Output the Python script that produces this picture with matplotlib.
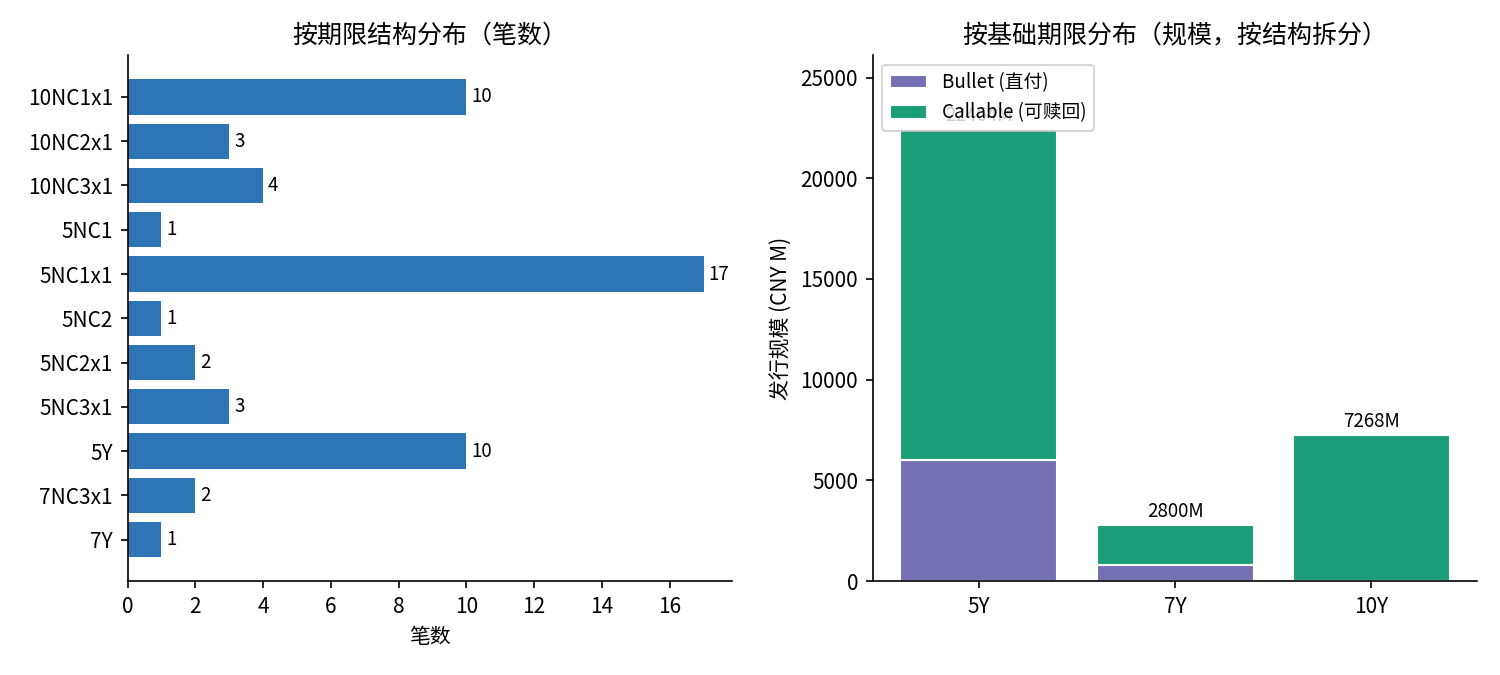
import matplotlib
matplotlib.use("Agg")
import matplotlib.pyplot as plt
import numpy as np

plt.rcParams['font.family'] = ['Noto Sans CJK SC', 'DejaVu Sans']
plt.rcParams['axes.unicode_minus'] = False

# left panel: count by tenor structure
structures = ['10NC1x1', '10NC2x1', '10NC3x1', '5NC1', '5NC1x1', '5NC2',
              '5NC2x1', '5NC3x1', '5Y', '7NC3x1', '7Y']
counts = [10, 3, 4, 1, 17, 1, 2, 3, 10, 2, 1]

# right panel: size by base tenor, split by structure
tenors = ['5Y', '7Y', '10Y']
bullet = [6000, 800, 0]
callable_ = [16464, 2000, 7268]

fig, (ax1, ax2) = plt.subplots(1, 2, figsize=(10, 4.5), dpi=150)
fig.subplots_adjust(left=0.085, right=0.985, top=0.918, bottom=0.139, wspace=0.232)

y = np.arange(len(structures))
ax1.barh(y, counts, color='#2E75B6')
ax1.set_yticks(y)
ax1.set_yticklabels(structures)
ax1.invert_yaxis()
for i, v in enumerate(counts):
    ax1.text(v + 0.15, i, str(v), va='center', fontsize=9)
ax1.set_xlabel('笔数')
ax1.set_title('按期限结构分布（笔数）')
ax1.set_xticks(range(0, 17, 2))
ax1.spines['top'].set_visible(False)
ax1.spines['right'].set_visible(False)

x = np.arange(len(tenors))
ax2.bar(x, bullet, color='#7570B3', edgecolor='white', label='Bullet (直付)')
ax2.bar(x, callable_, bottom=bullet, color='#1B9E77', edgecolor='white',
        label='Callable (可赎回)')
totals = [b + c for b, c in zip(bullet, callable_)]
for i, t in enumerate(totals):
    ax2.text(i, t + 150, f'{t}M', ha='center', va='bottom', fontsize=9)
ax2.set_xticks(x)
ax2.set_xticklabels(tenors)
ax2.set_ylabel('发行规模 (CNY M)')
ax2.set_title('按基础期限分布（规模，按结构拆分）')
ax2.set_ylim(0, 26100)
ax2.legend(loc='upper left', fontsize=9)
ax2.spines['top'].set_visible(False)
ax2.spines['right'].set_visible(False)

plt.savefig('out.png')
